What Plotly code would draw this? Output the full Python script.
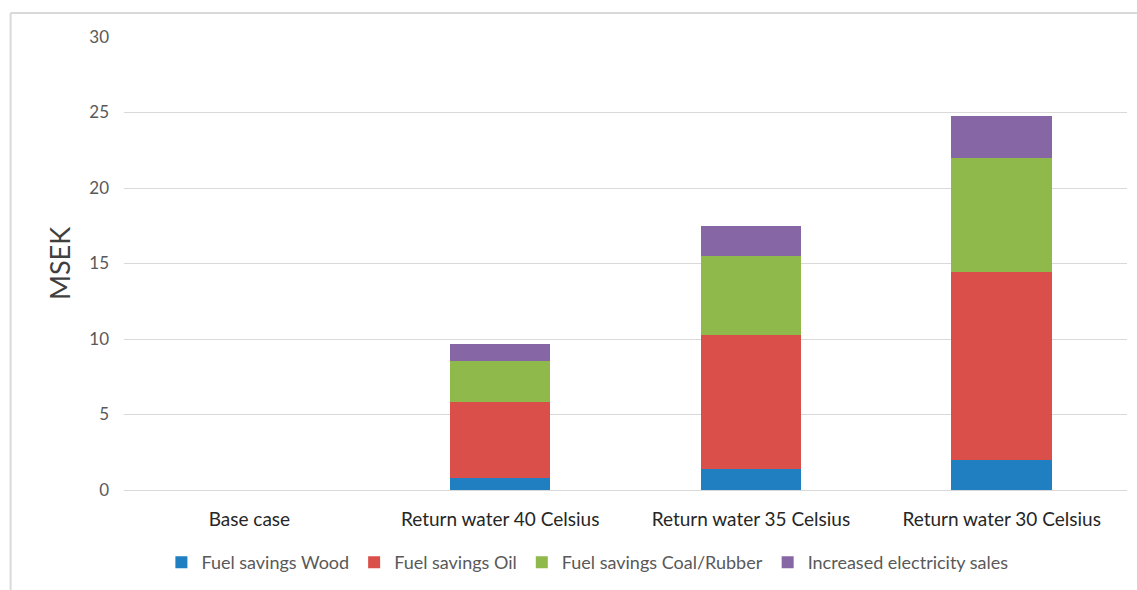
import plotly.graph_objects as go

categories = ["Base case", "Return water 40 Celsius", "Return water 35 Celsius", "Return water 30 Celsius"]
wood = [0, 0.8, 1.36, 2.0]
oil = [0, 5.0, 8.93, 12.45]
coal_rubber = [0, 2.75, 5.2, 7.55]
electricity = [0, 1.1, 2.0, 2.76]

series = [
    ("Fuel savings Wood", wood, "#1f7fc0"),
    ("Fuel savings Oil", oil, "#db4f4a"),
    ("Fuel savings Coal/Rubber", coal_rubber, "#8fba4b"),
    ("Increased electricity sales", electricity, "#8766a5"),
]

fig = go.Figure()
for name, vals, color in series:
    fig.add_trace(go.Bar(
        x=categories, y=vals, name=name,
        marker=dict(color=color, line=dict(width=0)),
    ))

W, H = 1137, 590
ml, mr, mt, mb = 123.5, 9.5, 37, 98
pw = W - ml - mr
ph = H - mt - mb

# outer chart frame (left and top edges visible)
fx0 = (10 - ml) / pw
fy1 = (H - mb - 13) / ph
fy0 = (H - mb - 600) / ph
fig.add_shape(type="line", xref="paper", yref="paper", x0=fx0, x1=fx0, y0=fy0, y1=fy1,
              line=dict(color="#d9d9d9", width=2))
fig.add_shape(type="line", xref="paper", yref="paper", x0=fx0, x1=(W + 10 - ml) / pw, y0=fy1, y1=fy1,
              line=dict(color="#d9d9d9", width=2))

fig.update_layout(
    width=W, height=H,
    margin=dict(l=ml, r=mr, t=mt, b=mb),
    barmode="stack",
    bargap=0.6,
    plot_bgcolor="white",
    paper_bgcolor="white",
    font=dict(family="Lato, Open Sans, sans-serif", color="#595959"),
    showlegend=True,
    legend=dict(orientation="h", x=0.462, xanchor="center", y=-0.16, yanchor="middle",
                font=dict(size=18, color="#595959"), traceorder="normal",
                itemwidth=30),
    xaxis=dict(
        showgrid=False, showline=False, ticks="",
        tickfont=dict(size=19, color="#262626"), ticklabelstandoff=16,
    ),
    yaxis=dict(
        range=[0, 30], dtick=5, showgrid=True, gridcolor="#d9d9d9", gridwidth=1,
        zeroline=True, zerolinecolor="#d9d9d9", zerolinewidth=1,
        tickfont=dict(size=17, color="#595959"), ticklabelstandoff=14,
        title=dict(text="MSEK", font=dict(size=27, color="#404040"), standoff=10),
    ),
)

fig.write_html("out.html")
